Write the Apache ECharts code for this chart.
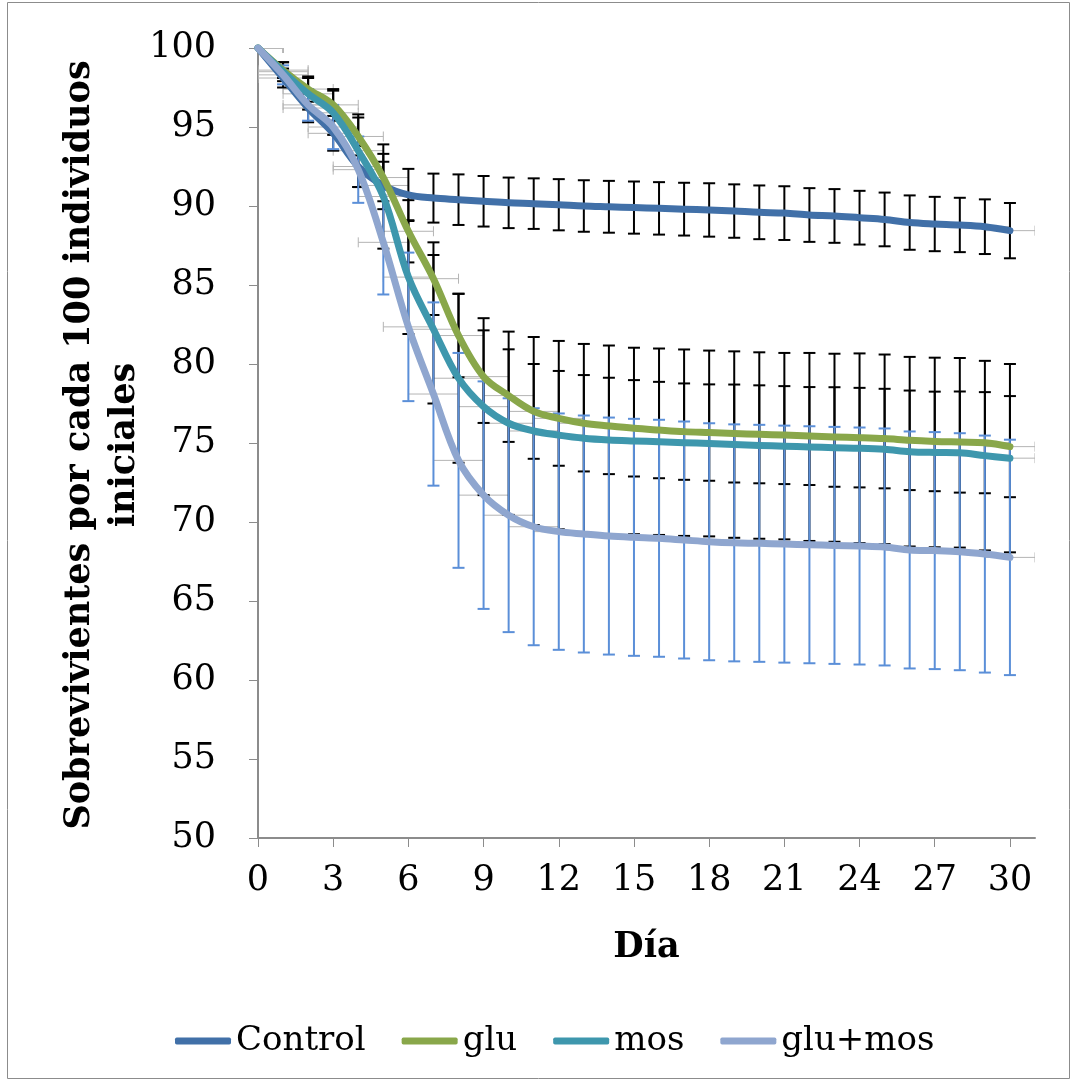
<!DOCTYPE html>
<html>
<head>
<meta charset="utf-8" />
<title></title>
<script src="https://cdn.jsdelivr.net/npm/echarts@6/dist/echarts.min.js"></script>
<style>
	body { margin: 0; padding: 0; background: #fff; }
	#main { width: 1076px; height: 1082px; }
</style>
</head>
<body>
<div id="main"></div>
<script type="text/javascript">
	// dias del ensayo
	var days = [0, 1, 2, 3, 4, 5, 6, 7, 8, 9, 10, 11, 12, 13, 14, 15, 16, 17, 18, 19, 20, 21, 22, 23, 24, 25, 26, 27, 28, 29, 30];
	var xTicks = [0, 3, 6, 9, 12, 15, 18, 21, 24, 27, 30];
	var seriesNames = ['Control', 'glu', 'mos', 'glu+mos'];

	var control = [100, 98.1, 96.2, 94.6, 92.5, 91.3, 90.7, 90.5, 90.4, 90.3, 90.2, 90.15, 90.08, 90.0, 89.95, 89.9, 89.85, 89.8, 89.75, 89.68, 89.6, 89.55, 89.43, 89.37, 89.26, 89.15, 88.95, 88.86, 88.8, 88.69, 88.44];
	var glu = [100, 98.6, 97.4, 96.4, 94.4, 91.8, 88.4, 85.4, 81.8, 79.2, 78.0, 77.0, 76.56, 76.25, 76.08, 75.93, 75.82, 75.72, 75.66, 75.6, 75.55, 75.5, 75.44, 75.38, 75.34, 75.28, 75.17, 75.1, 75.06, 75.02, 74.77];
	var mos = [100, 98.5, 97.1, 95.9, 93.5, 90.6, 85.5, 82.2, 79.1, 77.3, 76.25, 75.76, 75.5, 75.3, 75.19, 75.13, 75.08, 75.02, 74.97, 74.9, 74.84, 74.8, 74.75, 74.7, 74.67, 74.6, 74.45, 74.4, 74.38, 74.2, 74.04];
	var gluMos = [100, 98.3, 96.4, 95.0, 92.3, 87.7, 82.35, 78.1, 73.9, 71.7, 70.43, 69.7, 69.39, 69.24, 69.11, 69.03, 68.97, 68.86, 68.75, 68.68, 68.65, 68.6, 68.56, 68.52, 68.48, 68.42, 68.23, 68.19, 68.12, 67.97, 67.76];

	// desviaciones (barras verticales)
	var controlErr = [0, 0.6, 0.9, 1.1, 1.3, 1.5, 1.65, 1.55, 1.6, 1.6, 1.6, 1.6, 1.62, 1.63, 1.64, 1.65, 1.66, 1.67, 1.69, 1.69, 1.7, 1.7, 1.7, 1.7, 1.7, 1.7, 1.72, 1.72, 1.72, 1.73, 1.75];
	var gluErr = [0, 0.5, 0.8, 1.0, 1.2, 1.5, 1.97, 2.3, 2.64, 2.93, 2.93, 3.0, 3.0, 3.05, 3.05, 3.05, 3.05, 3.05, 3.05, 3.1, 3.1, 3.1, 3.1, 3.15, 3.15, 3.15, 3.15, 3.15, 3.2, 3.2, 3.2];
	var mosErr = [0, 0.6, 1.0, 1.4, 2.3, 3.3, 3.6, 4.7, 5.35, 5.6, 5.8, 5.95, 5.96, 5.97, 5.98, 5.9, 5.9, 5.9, 5.88, 5.9, 5.9, 5.9, 5.95, 5.95, 6.0, 6.0, 6.0, 6.0, 6.0, 6.0, 5.96];
	var gluMosErr = [0, 0.6, 1.0, 1.4, 2.1, 3.3, 4.7, 5.8, 6.8, 7.2, 7.4, 7.5, 7.48, 7.5, 7.5, 7.5, 7.5, 7.5, 7.5, 7.5, 7.5, 7.5, 7.5, 7.5, 7.5, 7.5, 7.5, 7.5, 7.5, 7.5, 7.45];
	// error en x (dias)
	var xErr = 1;

	var lineColors = ['#4170a8', '#89a74a', '#3e97ad', '#8fa6cf'];
	var errColors = ['#000000', '#000000', '#000000', '#5b8fd8'];
	var allVals = [control, glu, mos, gluMos];
	var allErrs = [controlErr, gluErr, mosErr, gluMosErr];
	var serif = 'DejaVu Serif';

	function yErrSeries(name, vals, errs, color) {
		return {
			type: 'custom',
			name: name + '_ey',
			silent: true,
			clip: true,
			z: 2,
			data: days.map(function(d, i) { return [d, vals[i], errs[i]]; }),
			encode: { x: 0, y: 1 },
			renderItem: function(params, api) {
				var x = api.value(0), y = api.value(1), e = api.value(2);
				if (!e) return;
				var t = api.coord([x, y + e]), b = api.coord([x, y - e]);
				var st = { stroke: color, lineWidth: 2 };
				return {
					type: 'group',
					children: [
						{ type: 'line', shape: { x1: t[0], y1: t[1], x2: b[0], y2: b[1] }, style: st },
						{ type: 'line', shape: { x1: t[0] - 6, y1: t[1], x2: t[0] + 6, y2: t[1] }, style: st },
						{ type: 'line', shape: { x1: b[0] - 6, y1: b[1], x2: b[0] + 6, y2: b[1] }, style: st }
					]
				};
			}
		};
	}

	function xErrSeries(name, vals) {
		return {
			type: 'custom',
			name: name + '_ex',
			silent: true,
			clip: true,
			z: 1,
			data: days.map(function(d, i) { return [d, vals[i]]; }),
			encode: { x: 0, y: 1 },
			renderItem: function(params, api) {
				var x = api.value(0), y = api.value(1);
				var l = api.coord([x - xErr, y]), r = api.coord([x + xErr, y]);
				var st = { stroke: '#b4b4b4', lineWidth: 1 };
				return {
					type: 'group',
					children: [
						{ type: 'line', shape: { x1: l[0], y1: l[1], x2: r[0], y2: r[1] }, style: st },
						{ type: 'line', shape: { x1: l[0], y1: l[1] - 5, x2: l[0], y2: l[1] + 5 }, style: st },
						{ type: 'line', shape: { x1: r[0], y1: r[1] - 5, x2: r[0], y2: r[1] + 5 }, style: st }
					]
				};
			}
		};
	}

	var series = [];
	for (var i = 0; i < seriesNames.length; i++) {
		series.push(xErrSeries(seriesNames[i], allVals[i]));
	}
	for (var i = 0; i < seriesNames.length; i++) {
		series.push(yErrSeries(seriesNames[i], allVals[i], allErrs[i], errColors[i]));
	}
	for (var i = 0; i < seriesNames.length; i++) {
		series.push({
			type: 'line',
			name: seriesNames[i],
			data: days.map(function(d, j) { return [d, allVals[i][j]]; }),
			smooth: 0.35,
			showSymbol: false,
			symbol: 'none',
			z: 3,
			lineStyle: { width: 7, color: lineColors[i], cap: 'round', join: 'round' },
			itemStyle: { color: lineColors[i] }
		});
	}

	var mychart = echarts.init(document.getElementById('main'));
	mychart.setOption({
		animation: false,
		backgroundColor: '#fff',
		grid: { left: 258, right: 41, top: 48, bottom: 244 },
		xAxis: {
			type: 'value',
			min: 0,
			max: 31,
			interval: 3,
			name: 'Día',
			nameLocation: 'middle',
			nameGap: 92,
			nameTextStyle: { fontFamily: serif, fontWeight: 'bold', fontSize: 35, color: '#000' },
			splitLine: { show: false },
			axisLine: { lineStyle: { color: '#8c8c8c', width: 2 } },
			axisTick: { show: true, length: 9, customValues: xTicks, lineStyle: { color: '#8c8c8c', width: 1 } },
			axisLabel: { customValues: xTicks, margin: 25, fontFamily: serif, fontSize: 35, color: '#000' }
		},
		yAxis: {
			type: 'value',
			min: 50,
			max: 100,
			interval: 5,
			splitLine: { show: false },
			axisLine: { show: true, lineStyle: { color: '#8c8c8c', width: 2 } },
			axisTick: { show: true, length: 9, lineStyle: { color: '#8c8c8c', width: 1 } },
			axisLabel: { margin: 42, fontFamily: serif, fontSize: 35, color: '#000' }
		},
		legend: {
			data: seriesNames,
			left: 170,
			top: 1019,
			icon: 'roundRect',
			itemWidth: 56,
			itemHeight: 7,
			itemGap: 36,
			textStyle: { fontFamily: serif, fontSize: 34, color: '#000' }
		},
		graphic: [
			{
				type: 'rect',
				shape: { x: 7.5, y: 2.5, width: 1062, height: 1076 },
				style: { fill: 'none', stroke: '#8c8c8c', lineWidth: 1 },
				silent: true
			},
			{
				type: 'text',
				x: 102,
				y: 445,
				rotation: Math.PI / 2,
				style: {
					text: 'Sobrevivientes por cada 100 individuos\niniciales',
					font: 'bold 35px "DejaVu Serif"',
					fill: '#000',
					align: 'center',
					verticalAlign: 'middle',
					lineHeight: 45
				}
			}
		],
		series: series
	});
</script>
</body>
</html>
